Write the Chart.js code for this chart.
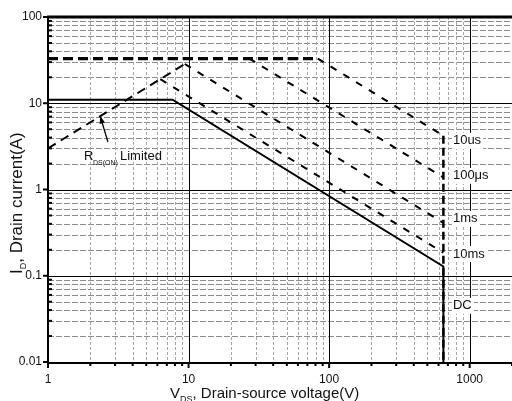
<!DOCTYPE html>
<html lang="en">
<head>
<meta charset="UTF-8">
<title>Safe operating area</title>
<script src="https://cdn.jsdelivr.net/npm/chart.js"></script>
<style>
  html, body { margin: 0; padding: 0; background: #fff; }
  canvas { display: block; }
</style>
</head>
<body>
<canvas id="soa" width="512" height="401"></canvas>
<script>
// values (V in volts, I in amps)
const voltTicks = [1, 10, 100, 1000];
const currentTicks = [0.01, 0.1, 1, 10, 100];

const rdsV = [1, 9.4];
const rdsI = [3.0, 28.5];
const peakV = [1, 83];
const peakI = [33, 33];
const us10V = [83, 650];
const us10I = [33, 4.2];
const edgeV = [650, 650];
const edgeI = [4.2, 0.01];
const us100V = [27, 650];
const us100I = [33, 1.38];
const ms1V = [9.4, 650];
const ms1I = [28.5, 0.41];
const ms10V = [6.3, 650];
const ms10I = [19, 0.185];
const dcV = [1, 7.7, 650, 650];
const dcI = [11, 11, 0.128, 0.01];

const curveNames = ['10us', '100\u03bcs', '1ms', '10ms', 'DC'];

// where the curve names sit (data coordinates)
const nameAt = { v: 760, i: [3.66, 1.44, 0.456, 0.179, 0.0448] };

const FONT = "'Liberation Sans', Arial, sans-serif";

function pts(vs, is) {
    return vs.map((v, k) => ({ x: v, y: is[k] }));
}

function isTick(list, v) {
    return list.some(t => Math.abs(t - v) < 1e-6 * t);
}

function line(data, width, dash) {
    return {
        data: data,
        showLine: true,
        borderColor: '#000',
        borderWidth: width,
        borderDash: dash || [],
        pointRadius: 0,
        tension: 0,
        fill: false
    };
}

// grid, axis frame, tick marks and texts
const frame = {
    id: 'frame',
    beforeDatasetsDraw(chart) {
        const { ctx, chartArea: a, scales: { x, y } } = chart;
        ctx.save();
        // horizontal minor
        ctx.strokeStyle = '#8c8c8c';
        ctx.lineWidth = 1;
        ctx.setLineDash([6, 2]);
        for (let d = -2; d < 2; d++) {
            for (let m = 2; m <= 9; m++) {
                const py = Math.round(y.getPixelForValue(m * Math.pow(10, d))) + 0.5;
                ctx.beginPath(); ctx.moveTo(a.left, py); ctx.lineTo(a.right, py); ctx.stroke();
            }
        }
        // vertical minor
        ctx.strokeStyle = '#a6a6a6';
        ctx.setLineDash([3, 2]);
        for (let d = 0; d < 4; d++) {
            for (let m = 2; m <= 9; m++) {
                const v = m * Math.pow(10, d);
                if (v > x.max) break;
                const px = Math.round(x.getPixelForValue(v)) + 0.5;
                ctx.beginPath(); ctx.moveTo(px, a.top); ctx.lineTo(px, a.bottom); ctx.stroke();
            }
        }
        // major
        ctx.setLineDash([]);
        ctx.strokeStyle = '#000';
        currentTicks.forEach(v => {
            const py = Math.round(y.getPixelForValue(v)) + 0.5;
            ctx.beginPath(); ctx.moveTo(a.left, py); ctx.lineTo(a.right, py); ctx.stroke();
        });
        voltTicks.forEach(v => {
            const px = Math.round(x.getPixelForValue(v)) + 0.5;
            ctx.beginPath(); ctx.moveTo(px, a.top); ctx.lineTo(px, a.bottom); ctx.stroke();
        });
        ctx.restore();
    },
    afterDatasetsDraw(chart) {
        const { ctx, chartArea: a, scales: { x, y } } = chart;
        ctx.save();

        // frame: thick top, left and bottom axes
        ctx.strokeStyle = '#000';
        ctx.lineWidth = 3;
        ctx.beginPath(); ctx.moveTo(a.left - 1, a.top); ctx.lineTo(a.right, a.top); ctx.stroke();
        ctx.lineWidth = 2;
        ctx.beginPath(); ctx.moveTo(a.left, a.top); ctx.lineTo(a.left, a.bottom + 1); ctx.lineTo(a.right, a.bottom + 1); ctx.stroke();

        // tick marks
        for (let d = 0; d < 4; d++) {
            for (let m = 1; m <= 9; m++) {
                const v = m * Math.pow(10, d);
                if (v > x.max) break;
                const px = x.getPixelForValue(v);
                ctx.beginPath(); ctx.moveTo(px, a.bottom); ctx.lineTo(px, a.bottom + (m === 1 ? 6 : 4)); ctx.stroke();
            }
        }
        for (let d = -2; d <= 2; d++) {
            for (let m = 1; m <= 9; m++) {
                const v = m * Math.pow(10, d);
                if (v > y.max) break;
                const py = y.getPixelForValue(v);
                ctx.beginPath();
                if (m === 1) { ctx.moveTo(a.left - 5, py); ctx.lineTo(a.left, py); }
                else { ctx.moveTo(a.left, py); ctx.lineTo(a.left + 4, py); }
                ctx.stroke();
            }
        }

        // curve names on white
        ctx.font = '13px ' + FONT;
        ctx.textBaseline = 'middle';
        curveNames.forEach((t, k) => {
            const px = x.getPixelForValue(nameAt.v);
            const py = y.getPixelForValue(nameAt.i[k]);
            const w = ctx.measureText(t).width;
            ctx.fillStyle = '#fff';
            ctx.fillRect(px - 1, py - 8, w + 3, 16);
            ctx.fillStyle = '#111';
            ctx.fillText(t, px, py);
        });

        // RDS(ON) Limited with arrow
        const tipX = x.getPixelForValue(2.35), tipY = y.getPixelForValue(7.1);
        const tailX = x.getPixelForValue(2.67), tailY = y.getPixelForValue(3.56);
        ctx.lineWidth = 1.3;
        ctx.beginPath(); ctx.moveTo(tailX, tailY); ctx.lineTo(tipX, tipY); ctx.stroke();
        const ang = Math.atan2(tipY - tailY, tipX - tailX);
        ctx.fillStyle = '#000';
        ctx.beginPath();
        ctx.moveTo(tipX, tipY);
        ctx.lineTo(tipX - 8 * Math.cos(ang - 0.35), tipY - 8 * Math.sin(ang - 0.35));
        ctx.lineTo(tipX - 8 * Math.cos(ang + 0.35), tipY - 8 * Math.sin(ang + 0.35));
        ctx.closePath(); ctx.fill();

        ctx.fillStyle = '#111';
        ctx.textBaseline = 'alphabetic';
        ctx.font = '13px ' + FONT;
        ctx.fillText('R', 84, 160);
        ctx.font = '7px ' + FONT;
        ctx.fillText('DS(ON)', 93, 165);
        ctx.font = '13px ' + FONT;
        ctx.fillText('Limited', 120, 160);

        // x title
        ctx.font = '15px ' + FONT;
        let tx = 170;
        ctx.fillText('V', tx, 398); tx += ctx.measureText('V').width;
        ctx.font = '9px ' + FONT;
        ctx.fillText('DS', tx, 402); tx += ctx.measureText('DS').width;
        ctx.font = '15px ' + FONT;
        ctx.fillText(', Drain-source voltage(V)', tx, 398);

        // y title
        ctx.translate(22, 274);
        ctx.rotate(-Math.PI / 2);
        let ty = 0;
        ctx.font = '17px ' + FONT;
        ctx.fillText('I', ty, 0); ty += ctx.measureText('I').width;
        ctx.font = '9px ' + FONT;
        ctx.fillText('D', ty, 4); ty += ctx.measureText('D').width;
        ctx.font = '17px ' + FONT;
        ctx.fillText(', Drain current(A)', ty, 0);

        ctx.restore();
    }
};

new Chart(document.getElementById('soa'), {
    type: 'scatter',
    data: {
        datasets: [
            line(pts(rdsV, rdsI), 2, [9, 6]),
            line(pts(peakV, peakI), 3.2, [10, 5]),
            line(pts(us10V, us10I), 2, [7, 8]),
            line(pts(edgeV, edgeI), 2.5, [8, 4]),
            line(pts(us100V, us100I), 2, [7, 8]),
            line(pts(ms1V, ms1I), 2, [7, 8]),
            line(pts(ms10V, ms10I), 2, [7, 8]),
            line(pts(dcV, dcI), 2)
        ]
    },
    options: {
        responsive: false,
        animation: false,
        devicePixelRatio: 1,
        layout: { padding: { top: 17, right: 0, left: 0, bottom: 0 } },
        plugins: { legend: { display: false }, tooltip: { enabled: false } },
        scales: {
            x: {
                type: 'logarithmic',
                min: 1,
                max: 2000,
                grid: { display: false, drawTicks: false },
                border: { display: false },
                afterFit: s => { s.height = 39; s.paddingRight = 0; s.paddingLeft = 0; },
                ticks: {
                    autoSkip: false,
                    maxRotation: 0,
                    padding: 10,
                    color: '#111',
                    font: { family: FONT, size: 12 },
                    callback: v => (isTick(voltTicks, v) ? String(v) : '')
                }
            },
            y: {
                type: 'logarithmic',
                min: 0.01,
                max: 100,
                grid: { display: false, drawTicks: false },
                border: { display: false },
                afterFit: s => { s.width = 48; s.paddingTop = 0; s.paddingBottom = 0; },
                ticks: {
                    autoSkip: false,
                    padding: 6,
                    color: '#111',
                    font: { family: FONT, size: 12 },
                    callback: v => (isTick(currentTicks, v) ? String(v) : '')
                }
            }
        }
    },
    plugins: [frame]
});
</script>
</body>
</html>
